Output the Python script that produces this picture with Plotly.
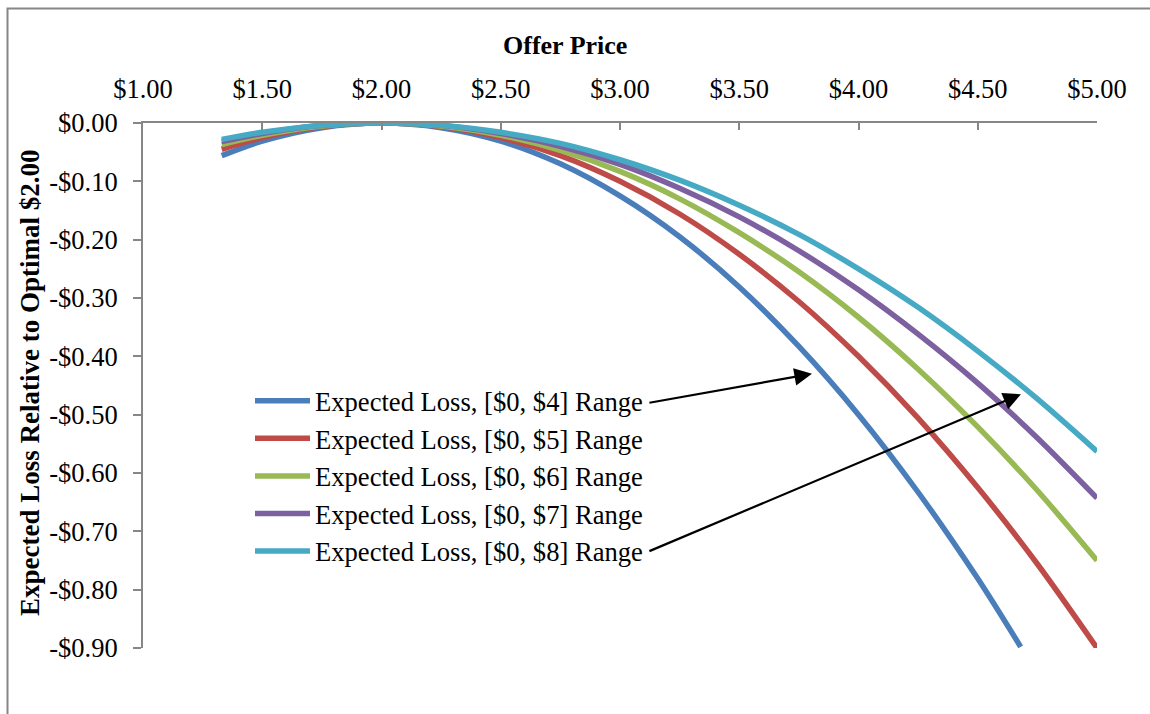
import plotly.graph_objects as go

# Offer prices sampled along each curve
price = [1.33, 1.50, 1.75, 2.00, 2.25, 2.50, 2.75, 3.00, 3.25, 3.50,
         3.75, 4.00, 4.25, 4.50, 4.75, 5.00]
price_r4 = [1.33, 1.50, 1.75, 2.00, 2.25, 2.50, 2.75, 3.00, 3.25, 3.50,
            3.75, 4.00, 4.25, 4.50, 4.68]

# Expected loss relative to the optimal $2.00 offer, per valuation range
loss_r4 = [-0.056, -0.031, -0.008, 0.0, -0.008, -0.031, -0.070, -0.125, -0.195,
           -0.281, -0.383, -0.500, -0.633, -0.781, -0.898]
loss_r5 = [-0.045, -0.025, -0.006, 0.0, -0.006, -0.025, -0.056, -0.100, -0.156,
           -0.225, -0.306, -0.400, -0.506, -0.625, -0.756, -0.900]
loss_r6 = [-0.037, -0.021, -0.005, 0.0, -0.005, -0.021, -0.047, -0.083, -0.130,
           -0.188, -0.255, -0.333, -0.422, -0.521, -0.630, -0.750]
loss_r7 = [-0.032, -0.018, -0.004, 0.0, -0.004, -0.018, -0.040, -0.071, -0.112,
           -0.161, -0.219, -0.286, -0.362, -0.446, -0.540, -0.643]
loss_r8 = [-0.028, -0.016, -0.004, 0.0, -0.004, -0.016, -0.035, -0.063, -0.098,
           -0.141, -0.191, -0.250, -0.316, -0.391, -0.473, -0.563]

series_names = ["Expected Loss, [$0, $4] Range", "Expected Loss, [$0, $5] Range",
                "Expected Loss, [$0, $6] Range", "Expected Loss, [$0, $7] Range",
                "Expected Loss, [$0, $8] Range"]
series_x = [price_r4, price, price, price, price]
series_y = [loss_r4, loss_r5, loss_r6, loss_r7, loss_r8]
colors = ["#4A7EBB", "#BE4B48", "#98B954", "#7D60A0", "#46AAC5"]

x_ticks = [1.0, 1.5, 2.0, 2.5, 3.0, 3.5, 4.0, 4.5, 5.0]
x_ticktext = ["$1.00", "$1.50", "$2.00", "$2.50", "$3.00", "$3.50", "$4.00", "$4.50", "$5.00"]
y_ticks = [0.0, -0.1, -0.2, -0.3, -0.4, -0.5, -0.6, -0.7, -0.8, -0.9]
y_ticktext = ["$0.00", "-$0.10", "-$0.20", "-$0.30", "-$0.40", "-$0.50",
              "-$0.60", "-$0.70", "-$0.80", "-$0.90"]

FONT = "Liberation Serif, Times New Roman, serif"
AXIS_GRAY = "#868686"

fig = go.Figure()
for name, xs, ys, col in zip(series_names, series_x, series_y, colors):
    fig.add_trace(go.Scatter(
        x=xs, y=ys, name=name, mode="lines",
        line=dict(color=col, width=5.5, shape="spline", smoothing=0.8),
    ))

# callout arrows from the legend entries to the [$0,$4] and [$0,$8] curves
arrows = [((3.117, -0.480), (3.805, -0.430)),
          ((3.117, -0.735), (4.681, -0.465))]
annotations = []
for (tx, ty), (hx, hy) in arrows:
    annotations.append(dict(
        x=hx, y=hy, ax=tx, ay=ty, xref="x", yref="y", axref="x", ayref="y",
        text="", showarrow=True, arrowhead=2, arrowsize=1.6, arrowwidth=2.2,
        arrowcolor="black", standoff=0, startstandoff=0,
    ))

annotations.append(dict(
    text="<b>Offer Price</b>", xref="paper", yref="paper",
    x=(565 - 143) / 954, y=(648 - 45) / 525, xanchor="center", yanchor="middle",
    showarrow=False, font=dict(family=FONT, size=26, color="black"),
))
annotations.append(dict(
    text="<b>Expected Loss Relative to Optimal $2.00</b>", xref="paper", yref="paper",
    x=(30 - 143) / 954, y=(648 - 383) / 525, xanchor="center", yanchor="middle",
    textangle=-90, showarrow=False, font=dict(family=FONT, size=27, color="black"),
))

fig.update_layout(
    width=1150, height=714,
    margin=dict(l=143, r=53, t=123, b=66),
    paper_bgcolor="white", plot_bgcolor="white",
    font=dict(family=FONT, size=26, color="black"),
    showlegend=True,
    legend=dict(
        x=(250 - 143) / 954, y=(648 - 377) / 525, xanchor="left", yanchor="top",
        bgcolor="rgba(0,0,0,0)", font=dict(family=FONT, size=26.6, color="black"),
        itemwidth=55, tracegroupgap=0,
    ),
    annotations=annotations,
    shapes=[dict(
        type="rect", xref="paper", yref="paper",
        x0=(7.5 - 143) / 954, x1=(1170 - 143) / 954,
        y0=(648 - 740) / 525, y1=(648 - 8.5) / 525,
        line=dict(color=AXIS_GRAY, width=2), fillcolor="rgba(0,0,0,0)", layer="below",
    )],
)

fig.update_xaxes(
    range=[1.0, 5.0], side="top", tickvals=x_ticks, ticktext=x_ticktext,
    showgrid=False, zeroline=False, showline=True, linecolor=AXIS_GRAY, linewidth=2,
    ticks="inside", ticklen=7, tickwidth=2, tickcolor=AXIS_GRAY,
    tickfont=dict(family=FONT, size=26.5, color="black"), ticklabelstandoff=12,
)
fig.update_yaxes(
    range=[-0.9, 0.0], tickvals=y_ticks, ticktext=y_ticktext,
    showgrid=False, zeroline=False, showline=True, linecolor=AXIS_GRAY, linewidth=2,
    ticks="outside", ticklen=8, tickwidth=2, tickcolor=AXIS_GRAY,
    tickfont=dict(family=FONT, size=26.5, color="black"), ticklabelstandoff=10,
)

fig.write_html("out.html")
